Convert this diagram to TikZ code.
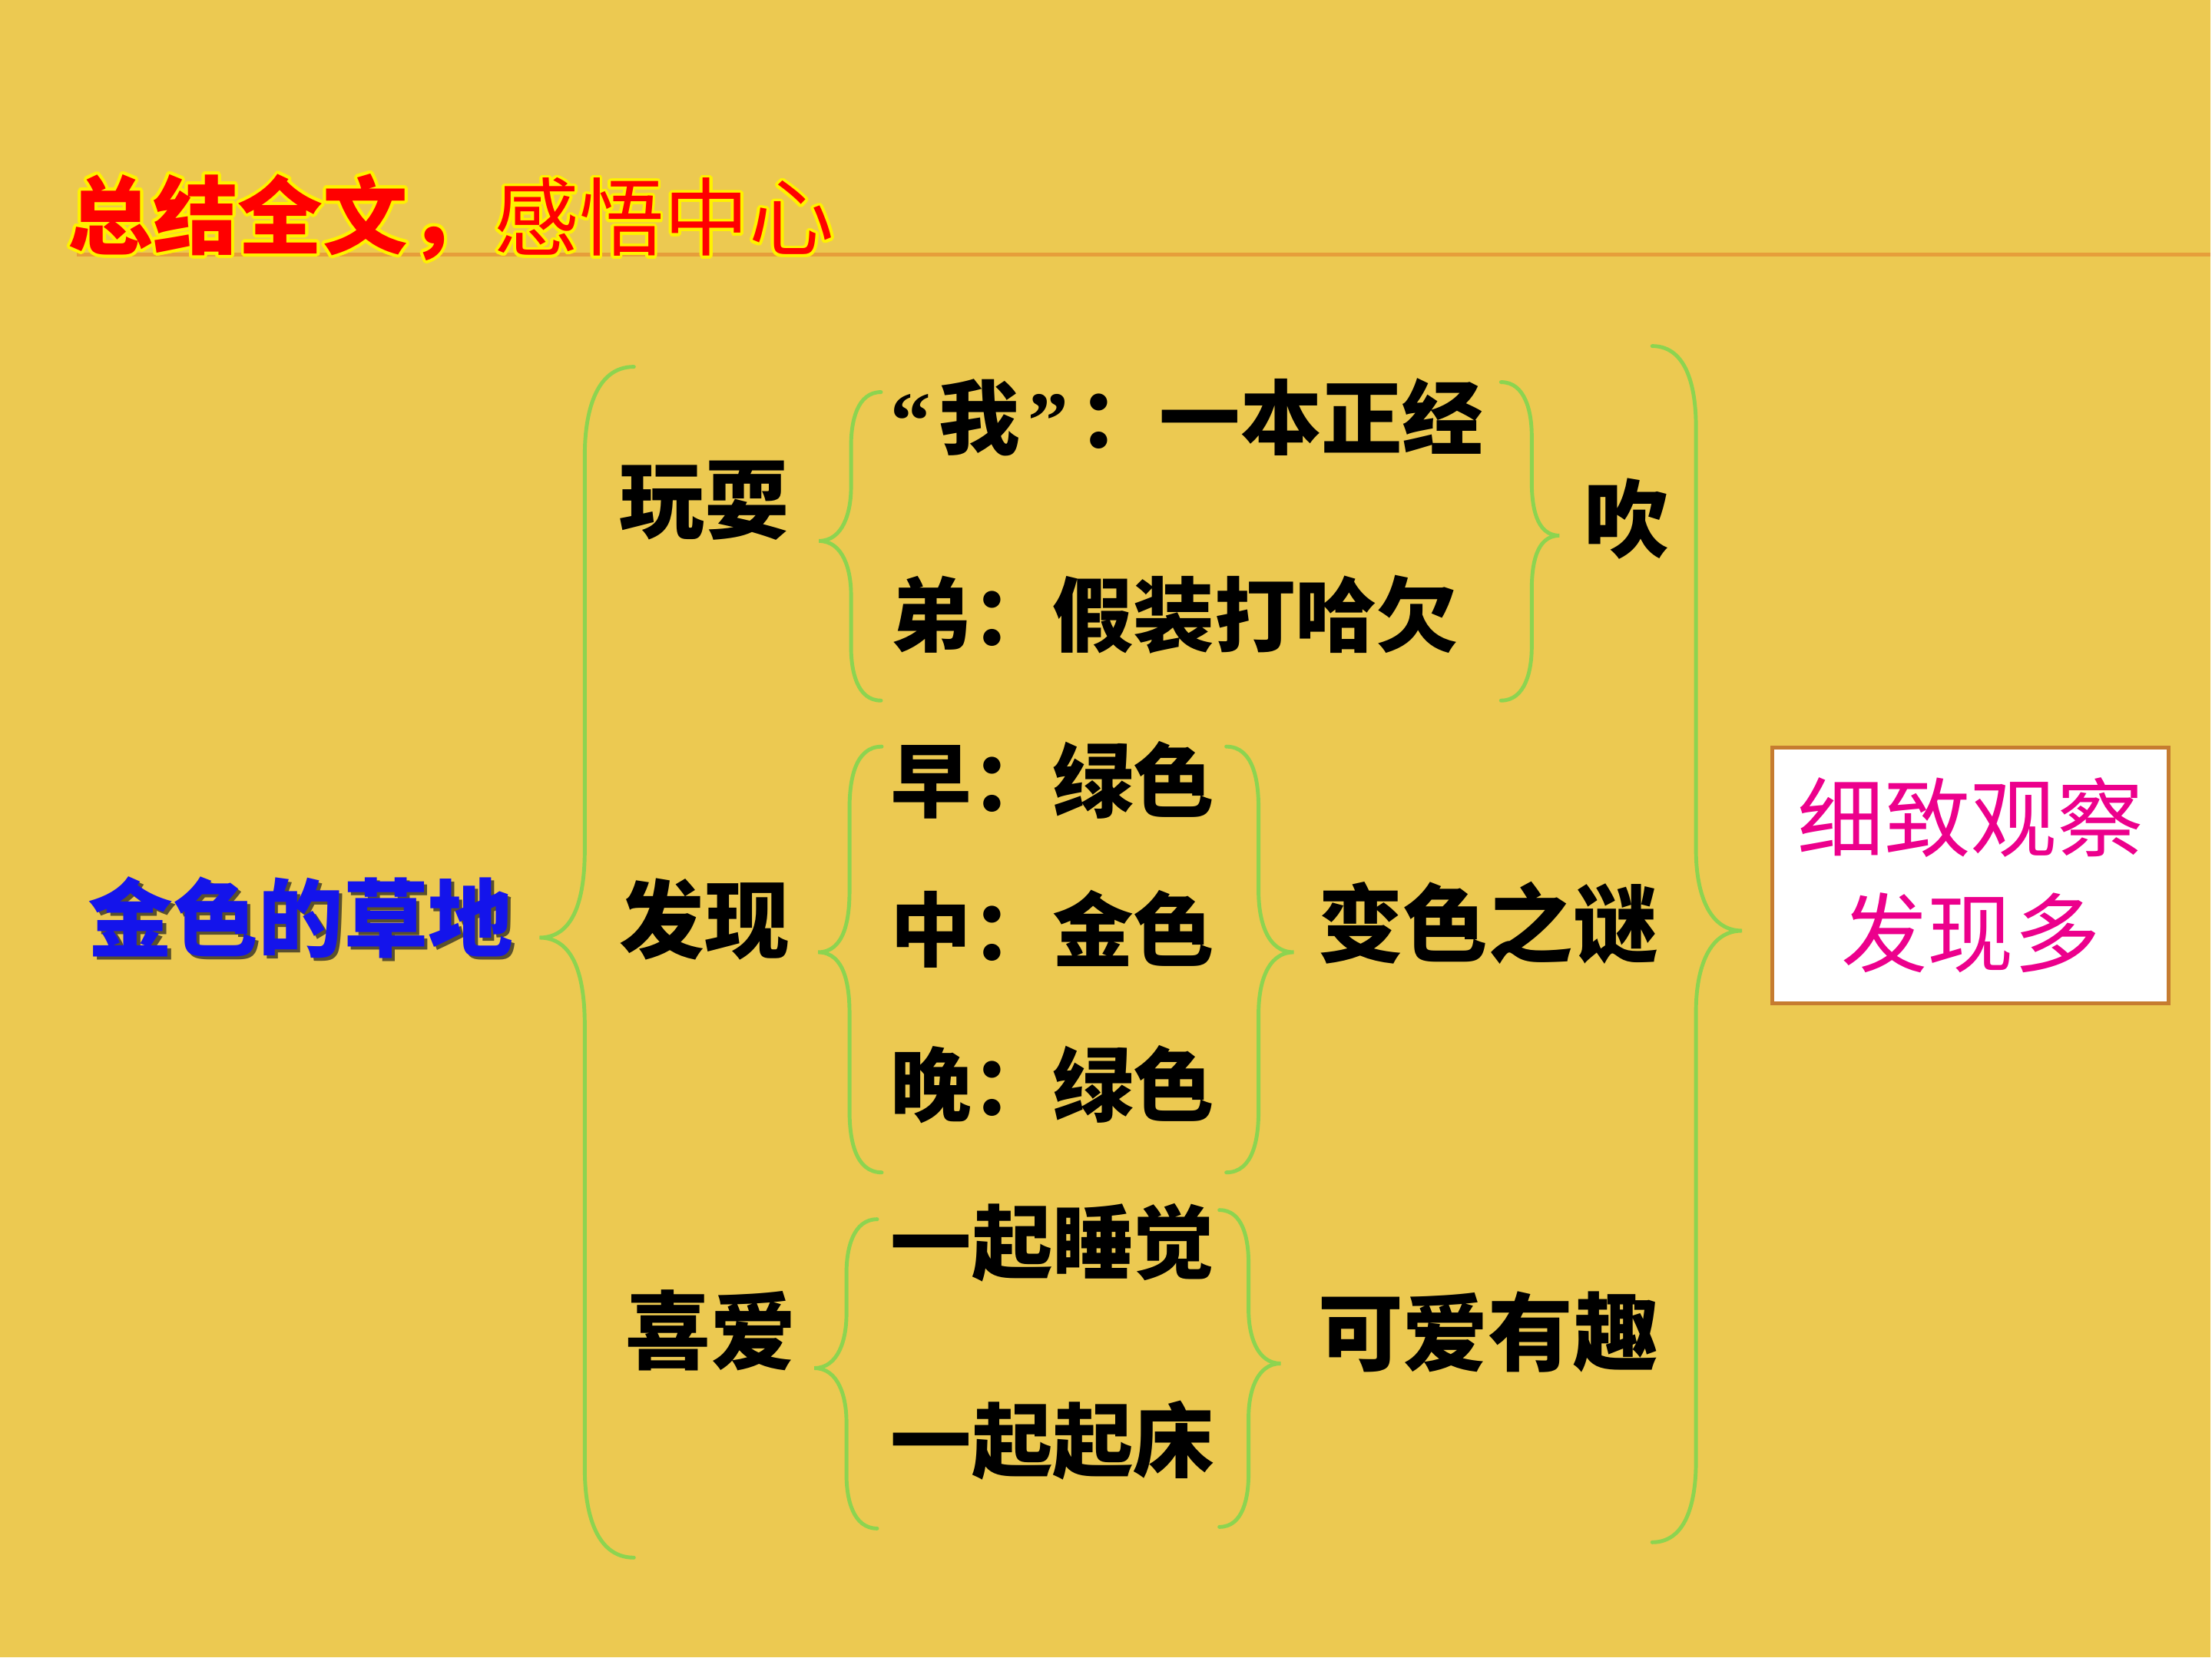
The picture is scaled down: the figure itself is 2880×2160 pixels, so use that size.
\documentclass[tikz,border=0pt]{standalone}
\usepackage{fontspec}
\usepackage{contour}
\usetikzlibrary{positioning}

\newfontfamily\cjk{Noto Sans CJK SC}
\newfontfamily\comillas{Liberation Serif}

\definecolor{fondo}{RGB}{236,201,81}
\definecolor{llave}{RGB}{140,212,80}
\definecolor{raya}{RGB}{230,158,58}
\definecolor{marco}{RGB}{198,124,48}
\definecolor{azul}{RGB}{20,20,235}
\definecolor{sombra}{RGB}{90,80,45}

\contourlength{1.1pt}
\contournumber{24}

\tikzset{
  brc/.style={llave, line width=1.4pt, line cap=round},
  txt/.style={inner sep=0pt, font=\cjk\bfseries\fontsize{31.5pt}{38pt}\selectfont},
  item/.style={txt, anchor=west, font=\cjk\bfseries\fontsize{30pt}{36pt}\selectfont},
  titulo/.style={txt, text=red},
  caja/.style={draw=marco, line width=1.4pt, fill=white, text=magenta, align=center,
    font=\cjk\fontsize{32pt}{42.7pt}\selectfont}
}

% Texto con sombra desplazada
\newcommand{\sombreado}[1]{\rlap{\kern1.2pt\raisebox{-1.2pt}{\color{sombra}#1}}#1}

% Llave izquierda: x extremo, x cuerpo, x punta, y arriba, y punta, y abajo, curva
\newcommand{\llaveizq}[7]{%
  \draw[brc] (#1,#4) to[out=180,in=90] (#2,#4+#7) -- (#2,#5-#7) to[out=-90,in=0] (#3,#5)
    to[out=0,in=90] (#2,#5+#7) -- (#2,#6-#7) to[out=-90,in=180] (#1,#6);}
% Llave derecha (misma lista de argumentos)
\newcommand{\llaveder}[7]{%
  \draw[brc] (#1,#4) to[out=0,in=90] (#2,#4+#7) -- (#2,#5-#7) to[out=-90,in=180] (#3,#5)
    to[out=180,in=90] (#2,#5+#7) -- (#2,#6-#7) to[out=-90,in=0] (#1,#6);}

\begin{document}
\begin{tikzpicture}[x=0.01cm, y=-0.01cm]

		% Parámetros de columnas (en píxeles)
		\def\Xitem{1160}    % Borde izquierdo de los detalles
		\def\Xres{1717}     % Borde izquierdo de los resultados

		% --- 1. FONDO Y TÍTULO ---
		\fill[fondo] (0,0) rectangle (2880,2160);
		\draw[raya, line width=1.4pt] (100,332) -- (2880,332);
		\node[titulo, anchor=west] (tit) at (88,285) {\contour{yellow}{总结全文，}};
		\node[titulo, font=\cjk\fontsize{31.5pt}{38pt}\selectfont, right=0pt of tit] (tit2) {\contour{yellow}{感悟中心}};

		% --- 2. TEMA CENTRAL Y LLAVE GRANDE ---
		\node[txt, text=azul] (tema) at (392,1198) {\sombreado{金色的草地}};
		\llaveizq{826}{762}{703}{478}{1222}{2030}{115}

		% --- 3. TRES PARTES ---
		\node[txt] (jugar) at (918,652) {玩耍};
		\node[txt] (hallar) at (918,1198) {发现};
		\node[txt] (querer) at (926,1734) {喜爱};

		% Parte 1: jugar
		\llaveizq{1148}{1109}{1067}{511}{705}{913}{70}
		\node[item] (yo) at (\Xitem,544) {{\comillas “}\kern0.1em我\kern0.1em{\comillas ”}\kern0.12em：一本正经};
		\node[item] (hermano) at (\Xitem,801) {弟：假装打哈欠};
		\llaveder{1956}{1996}{2032}{498}{698}{913}{70}
		\node[txt] (soplar) at (2120,676) {吹};

		% Parte 2: descubrir
		\llaveizq{1149}{1107}{1066}{973}{1241}{1528}{80}
		\node[item] (manana) at (\Xitem,1017) {早：绿色};
		\node[item] (mediodia) at (\Xitem,1211) {中：金色};
		\node[item] (tarde) at (\Xitem,1413) {晚：绿色};
		\llaveder{1598}{1640}{1686}{973}{1241}{1528}{80}
		\node[txt, anchor=west] (enigma) at (\Xres,1203) {变色之谜};

		% Parte 3: querer
		\llaveizq{1143}{1103}{1061}{1589}{1783}{1992}{70}
		\node[item] (dormir) at (\Xitem,1620) {一起睡觉};
		\node[item] (levantar) at (\Xitem,1877) {一起起床};
		\llaveder{1589}{1627}{1669}{1577}{1777}{1990}{70}
		\node[txt, anchor=west] (gracioso) at (\Xres,1736) {可爱有趣};

		% --- 4. LLAVE FINAL Y CONCLUSIÓN ---
		\llaveder{2153}{2210}{2270}{451}{1213}{2010}{105}
		\node[caja, minimum width=5.16cm, minimum height=3.33cm] (concl) at (2568,1141) {细致观察\\发现多};

\end{tikzpicture}
\end{document}
